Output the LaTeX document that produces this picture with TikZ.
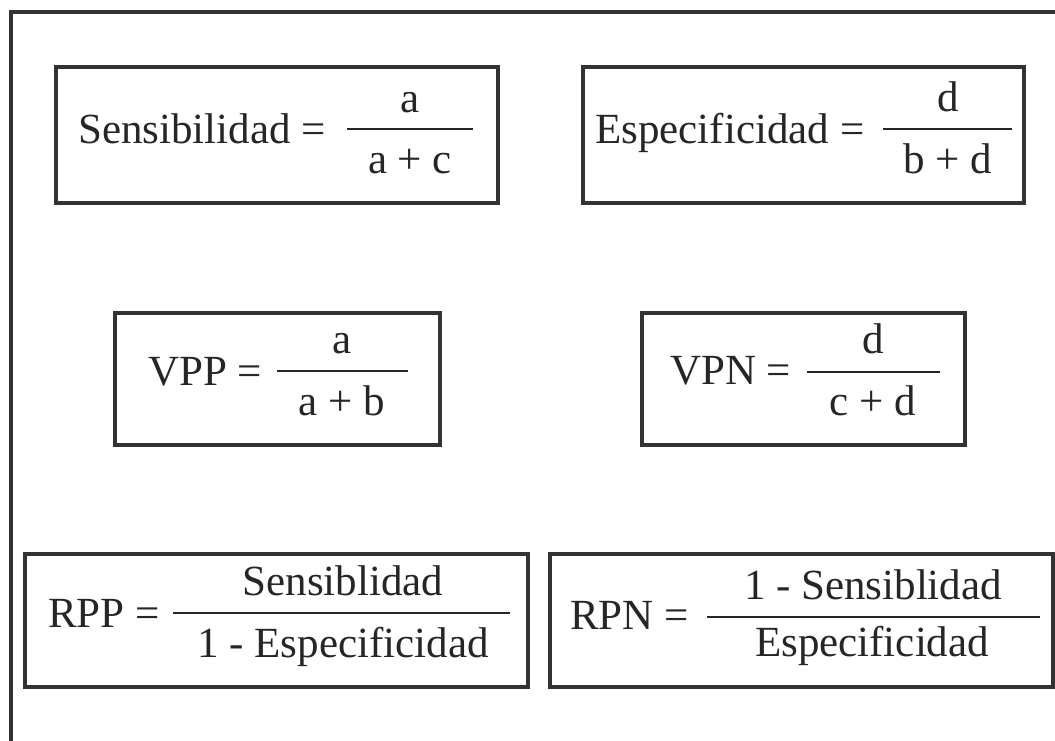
\documentclass[tikz,border=0pt]{standalone}
\usepackage{fontspec}
\setmainfont{Liberation Serif}
\definecolor{ink}{HTML}{262626}
\definecolor{rule}{HTML}{333333}
\begin{document}
\begin{tikzpicture}[x=1pt,y=-1pt,
  lbl/.style={inner sep=0pt, anchor=base west, text=ink},
  term/.style={inner sep=0pt, anchor=base, text=ink},
  panel/.style={draw=rule, line width=3.4pt},
  bar/.style={draw=ink, line width=2.8pt},
  font=\fontsize{43}{50}\selectfont]

\useasboundingbox[fill=white] (0,0) rectangle (1055,740);

% outer frame (only top and left edges are in view)
\draw[panel] (11,745) -- (11,12) -- (1060,12);

% formula panels
\draw[panel] (56,67)   rectangle (498,203);
\draw[panel] (583,67)  rectangle (1024,203);
\draw[panel] (115,313) rectangle (440,445);
\draw[panel] (642,313) rectangle (965,445);
\draw[panel] (25,554)  rectangle (528,687);
\draw[panel] (550,554) rectangle (1053,687);

% Sensibilidad
\node[lbl]  (sensL) at (78,143) {Sensibilidad =};
\draw[bar] (347,129) -- (473,129);
\node[term] (sensN) at (410,112) {a};
\node[term] (sensD) at (410,173) {a + c};

% Especificidad
\node[lbl]  (espL) at (595,143) {Especificidad =};
\draw[bar] (883,129) -- (1012,129);
\node[term] (espN) at (948,111) {d};
\node[term] (espD) at (948,173) {b + d};

% VPP
\node[lbl]  (vppL) at (148,385) {VPP =};
\draw[bar] (277,371) -- (408,371);
\node[term] (vppN) at (342,353) {a};
\node[term] (vppD) at (342,415) {a + b};

% VPN
\node[lbl]  (vpnL) at (670,384) {VPN =};
\draw[bar] (807,372) -- (940,372);
\node[term] (vpnN) at (873,353) {d};
\node[term] (vpnD) at (873,415) {c + d};

% RPP
\node[lbl]  (rppL) at (48,627) {RPP =};
\draw[bar] (173,613) -- (510,613);
\node[term] (rppN) at (343,595) {Sensiblidad};
\node[term] (rppD) at (343,657) {1 - Especificidad};

% RPN
\node[lbl]  (rpnL) at (570,629) {RPN =};
\draw[bar] (707,617) -- (1040,617);
\node[term] (rpnN) at (873,599) {1 - Sensiblidad};
\node[term] (rpnD) at (872,656) {Especificidad};

\end{tikzpicture}
\end{document}
